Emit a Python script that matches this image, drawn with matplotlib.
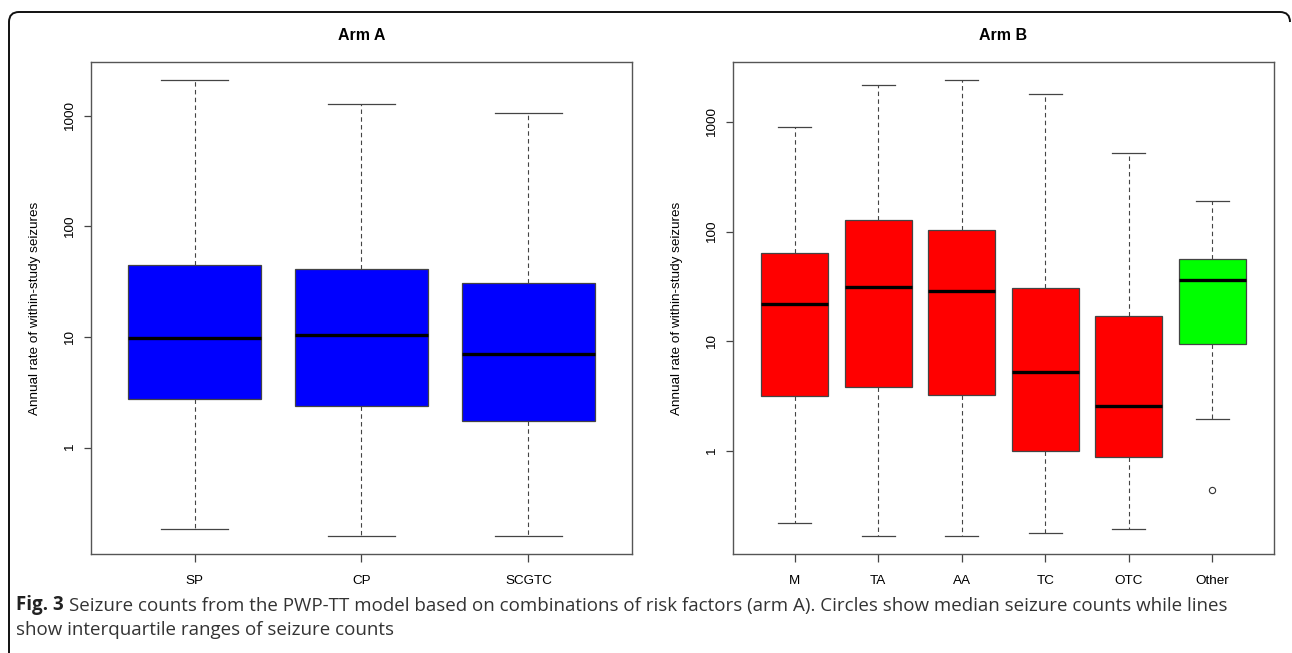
import numpy as np
import matplotlib
matplotlib.use('Agg')
import matplotlib.pyplot as plt
from matplotlib.path import Path
from matplotlib.patches import PathPatch

# Arm A
arm_a_labels = ['SP', 'CP', 'SCGTC']
arm_a_whislo = [0.185, 0.160, 0.160]
arm_a_q1 = [2.74, 2.40, 1.74]
arm_a_med = [9.8, 10.4, 6.98]
arm_a_q3 = [44.5, 41.1, 31.0]
arm_a_whishi = [2100, 1276, 1064]
arm_a_colors = ['#0000ff', '#0000ff', '#0000ff']
arm_a_fliers = [[], [], []]

# Arm B
arm_b_labels = ['M', 'TA', 'AA', 'TC', 'OTC', 'Other']
arm_b_whislo = [0.221, 0.169, 0.169, 0.178, 0.196, 1.96]
arm_b_q1 = [3.19, 3.82, 3.25, 1.0, 0.89, 9.53]
arm_b_med = [22.1, 31.6, 28.9, 5.22, 2.57, 35.9]
arm_b_q3 = [63.5, 128, 104, 30.5, 17.1, 56.5]
arm_b_whishi = [895, 2193, 2400, 1811, 522, 191]
arm_b_colors = ['#ff0000'] * 5 + ['#00ff00']
arm_b_fliers = [[], [], [], [], [], [0.44]]

ytick_vals = [1, 10, 100, 1000]

W, H = 1292, 653
fig = plt.figure(figsize=(W / 100, H / 100), dpi=100)
fig.patch.set_facecolor('white')

FONT = ['Liberation Sans', 'DejaVu Sans']
EDGE = '#444444'


def panel(rect, title, labels, whislo, q1, med, q3, whishi, fliers, colors):
    ax = fig.add_axes(rect)
    stats = []
    for i in range(len(labels)):
        stats.append(dict(whislo=whislo[i], q1=q1[i], med=med[i], q3=q3[i],
                          whishi=whishi[i], fliers=fliers[i], label=labels[i]))
    n = len(labels)
    pos = np.arange(1, n + 1)
    bp = ax.bxp(stats, positions=pos, widths=0.8, capwidths=0.4,
                patch_artist=True, showfliers=True,
                boxprops=dict(edgecolor=EDGE, linewidth=0.9),
                medianprops=dict(color='black', linewidth=2.4, solid_capstyle='butt'),
                whiskerprops=dict(color=EDGE, linewidth=0.8, linestyle=(0, (4, 3))),
                capprops=dict(color=EDGE, linewidth=0.9),
                flierprops=dict(marker='o', markersize=4.5, markerfacecolor='none',
                                markeredgecolor='#333333', markeredgewidth=0.8))
    for patch, c in zip(bp['boxes'], colors):
        patch.set_facecolor(c)
    ax.set_yscale('log')
    # R style: data range extended by 4% on each side
    lo = np.log10(min(min(whislo), min([min(f) for f in fliers if f] + [np.inf])))
    hi = np.log10(max(whishi))
    ext = (hi - lo) * 0.04
    ax.set_ylim(10 ** (lo - ext), 10 ** (hi + ext))
    ax.set_xlim(0.5 - 0.04 * n, n + 0.5 + 0.04 * n)
    ax.set_yticks(ytick_vals)
    ax.set_yticklabels([str(v) for v in ytick_vals], rotation=90, va='center',
                       fontsize=9.7, family=FONT)
    ax.yaxis.set_minor_locator(matplotlib.ticker.NullLocator())
    ax.set_xticks(pos)
    ax.set_xticklabels(labels, fontsize=9.7, family=FONT)
    ax.tick_params(axis='y', length=5, width=0.9, color=EDGE, pad=6)
    ax.tick_params(axis='x', length=6, width=0.9, color=EDGE, pad=9)
    for s in ax.spines.values():
        s.set_color('#555555')
        s.set_linewidth(1.0)
    ax.set_ylabel('Annual rate of within-study seizures', fontsize=9.7, family=FONT)
    ax.yaxis.label.set_va('center')
    ax.yaxis.set_label_coords(-56 / 541, 0.5)
    ax.text(0.5, 1 + 26 / 492, title, transform=ax.transAxes, ha='center',
            va='center', fontsize=11.5, fontweight='bold', family=FONT)
    return ax


ax1 = panel([91 / W, 1 - 554 / H, 541 / W, 492 / H], 'Arm A', arm_a_labels,
            arm_a_whislo, arm_a_q1, arm_a_med, arm_a_q3, arm_a_whishi,
            arm_a_fliers, arm_a_colors)
ax2 = panel([733 / W, 1 - 554 / H, 541 / W, 492 / H], 'Arm B', arm_b_labels,
            arm_b_whislo, arm_b_q1, arm_b_med, arm_b_q3, arm_b_whishi,
            arm_b_fliers, arm_b_colors)

# rounded frame (top and left edges)
r = 10
x0, y0, x1 = 9, 12, 1290
pts = [(x0, H + 5), (x0, y0 + r), (x0, y0), (x0 + r, y0), (x1 - r, y0), (x1, y0), (x1, y0 + r)]
codes = [Path.MOVETO, Path.LINETO, Path.CURVE3, Path.CURVE3, Path.LINETO, Path.CURVE3, Path.CURVE3]
pts = [(px / W, 1 - py / H) for px, py in pts]
fig.add_artist(PathPatch(Path(pts, codes), transform=fig.transFigure, fill=False,
                         edgecolor='#111111', linewidth=1.4, clip_on=False))

# caption
CAP = ['Open Sans', 'DejaVu Sans']
t1 = fig.text(16 / W, 1 - 610 / H, 'Fig. 3', fontsize=13.5, fontweight='bold',
              family=CAP, color='#222222', ha='left', va='baseline')
ax1.annotate('Seizure counts from the PWP-TT model based on combinations of risk factors '
             '(arm A). Circles show median seizure counts while lines',
             xy=(1, 0), xycoords=t1, xytext=(4, 0), textcoords='offset points',
             ha='left', va='bottom', fontsize=13.5, family=CAP, color='#333333',
             annotation_clip=False)
fig.text(16 / W, 1 - 635 / H, 'show interquartile ranges of seizure counts',
         fontsize=13.5, family=CAP, color='#333333', ha='left', va='baseline')

fig.savefig('out.png', dpi=100, facecolor='white')
